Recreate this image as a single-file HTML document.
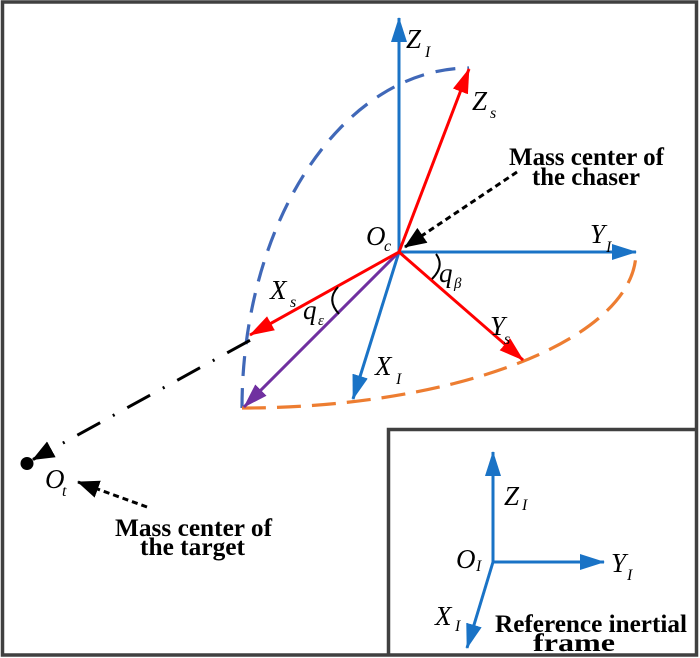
<!DOCTYPE html>
<html>
<head>
<meta charset="utf-8">
<style>
  html,body{margin:0;padding:0;background:#fff;}
  svg{display:block;}
  .it{font-family:"Liberation Serif",serif;font-style:italic;fill:#000;}
  .bd{font-family:"Liberation Serif",serif;font-weight:bold;fill:#000;}
</style>
</head>
<body>
<svg width="700" height="658" viewBox="0 0 700 658" xmlns="http://www.w3.org/2000/svg">
  <defs>
    <marker id="mb" viewBox="0 0 25 16" refX="24" refY="8" markerWidth="25" markerHeight="16" markerUnits="userSpaceOnUse" orient="auto">
      <path d="M0,0 L25,8 L0,16 z" fill="#1a73c6"/>
    </marker>
    <marker id="mr" viewBox="0 0 25 16" refX="24" refY="8" markerWidth="25" markerHeight="16" markerUnits="userSpaceOnUse" orient="auto">
      <path d="M0,0 L25,8 L0,16 z" fill="#ff0000"/>
    </marker>
    <marker id="mp" viewBox="0 0 25 16" refX="24" refY="8" markerWidth="25" markerHeight="16" markerUnits="userSpaceOnUse" orient="auto">
      <path d="M0,0 L25,8 L0,16 z" fill="#7030a0"/>
    </marker>
    <marker id="mk" viewBox="0 0 22 18" refX="21" refY="9" markerWidth="22" markerHeight="18" markerUnits="userSpaceOnUse" orient="auto">
      <path d="M0,0 L22,9 L0,18 z" fill="#000"/>
    </marker>
  </defs>

  <rect x="0" y="0" width="700" height="658" fill="#fff"/>
  <!-- outer border -->
  <rect x="2.5" y="2" width="694" height="653" fill="none" stroke="#404040" stroke-width="3.5"/>
  <!-- inset box -->
  <path d="M388.5,656 L388.5,429.5 L697,429.5" fill="none" stroke="#404040" stroke-width="3.5"/>

  <!-- dashed arcs -->
  <path d="M242,408 A227,340 0 0 1 469,68" fill="none" stroke="#4068b8" stroke-width="3.2" stroke-dasharray="20 12"/>
  <path d="M242,408 A394,156 0 0 0 636,252" fill="none" stroke="#ed7d31" stroke-width="3.2" stroke-dasharray="24 11"/>

  <!-- dash-dot line to target -->
  <line x1="250" y1="340.3" x2="33" y2="459.5" stroke="#000" stroke-width="3" stroke-dasharray="26 14.5 2 14.5" marker-end="url(#mk)"/>
  <circle cx="27" cy="463.5" r="6.5" fill="#000"/>

  <!-- blue axes -->
  <line x1="399" y1="252" x2="399" y2="18" stroke="#1a73c6" stroke-width="3" marker-end="url(#mb)"/>
  <line x1="399" y1="252" x2="636" y2="252" stroke="#1a73c6" stroke-width="3" marker-end="url(#mb)"/>
  <line x1="399" y1="252" x2="353" y2="399" stroke="#1a73c6" stroke-width="3" marker-end="url(#mb)"/>

  <!-- purple -->
  <line x1="399" y1="252" x2="244" y2="407" stroke="#7030a0" stroke-width="3" marker-end="url(#mp)"/>

  <!-- red axes -->
  <line x1="399" y1="252" x2="469" y2="69" stroke="#ff0000" stroke-width="3" marker-end="url(#mr)"/>
  <line x1="399" y1="252" x2="523" y2="360" stroke="#ff0000" stroke-width="3" marker-end="url(#mr)"/>
  <line x1="399" y1="252" x2="250" y2="335" stroke="#ff0000" stroke-width="3" marker-end="url(#mr)"/>

  <!-- angle arcs -->
  <path d="M436,254 Q445,266 432,279" fill="none" stroke="#000" stroke-width="2"/>
  <path d="M338,287 Q326,300 339,314" fill="none" stroke="#000" stroke-width="2"/>

  <!-- pointer arrows -->
  <line x1="517" y1="172" x2="405" y2="247" stroke="#000" stroke-width="3" stroke-dasharray="6 4" marker-end="url(#mk)"/>
  <line x1="147" y1="507" x2="78" y2="482" stroke="#000" stroke-width="3" stroke-dasharray="6 4" marker-end="url(#mk)"/>

  <!-- inset axes -->
  <line x1="493" y1="562" x2="493" y2="452" stroke="#1a73c6" stroke-width="3" marker-end="url(#mb)"/>
  <line x1="493" y1="562" x2="604" y2="562" stroke="#1a73c6" stroke-width="3" marker-end="url(#mb)"/>
  <line x1="493" y1="562" x2="467" y2="648" stroke="#1a73c6" stroke-width="3" marker-end="url(#mb)"/>

  <!-- italic labels main -->
  <text class="it" x="406" y="48" font-size="27">Z</text><text class="it" x="425" y="57" font-size="16">I</text>
  <text class="it" x="472" y="110" font-size="27">Z</text><text class="it" x="490" y="118" font-size="16">s</text>
  <text class="it" x="366" y="245" font-size="27">O</text><text class="it" x="384" y="251" font-size="16">c</text>
  <text class="it" x="590" y="243" font-size="27">Y</text><text class="it" x="606" y="252" font-size="16">I</text>
  <text class="it" x="439" y="282" font-size="27">q</text><text class="it" x="454" y="288" font-size="15">β</text>
  <text class="it" x="270" y="299" font-size="27">X</text><text class="it" x="290" y="307" font-size="16">s</text>
  <text class="it" x="303" y="319" font-size="27">q</text><text class="it" x="318" y="325" font-size="15">ε</text>
  <text class="it" x="490" y="335" font-size="27">Y</text><text class="it" x="504" y="344" font-size="16">s</text>
  <text class="it" x="375" y="375" font-size="27">X</text><text class="it" x="396" y="384" font-size="16">I</text>
  <text class="it" x="45" y="488" font-size="27">O</text><text class="it" x="62" y="496" font-size="16">t</text>

  <!-- inset labels -->
  <text class="it" x="504" y="505" font-size="27">Z</text><text class="it" x="522" y="510" font-size="16">I</text>
  <text class="it" x="456" y="568" font-size="27">O</text><text class="it" x="476" y="571" font-size="16">I</text>
  <text class="it" x="611" y="572" font-size="27">Y</text><text class="it" x="627" y="580" font-size="16">I</text>
  <text class="it" x="435" y="625" font-size="27">X</text><text class="it" x="455" y="631" font-size="16">I</text>

  <!-- bold annotations -->
  <text class="bd" x="509" y="165" font-size="25" textLength="155" lengthAdjust="spacingAndGlyphs">Mass center of</text>
  <text class="bd" x="532" y="185" font-size="25" textLength="108" lengthAdjust="spacingAndGlyphs">the chaser</text>
  <text class="bd" x="115" y="536" font-size="25" textLength="157" lengthAdjust="spacingAndGlyphs">Mass center of</text>
  <text class="bd" x="140" y="555" font-size="25" textLength="105" lengthAdjust="spacingAndGlyphs">the target</text>
  <text class="bd" x="495" y="632" font-size="25" textLength="192" lengthAdjust="spacingAndGlyphs">Reference inertial</text>
  <text class="bd" x="533" y="651" font-size="25" textLength="82" lengthAdjust="spacingAndGlyphs">frame</text>
</svg>
</body>
</html>
